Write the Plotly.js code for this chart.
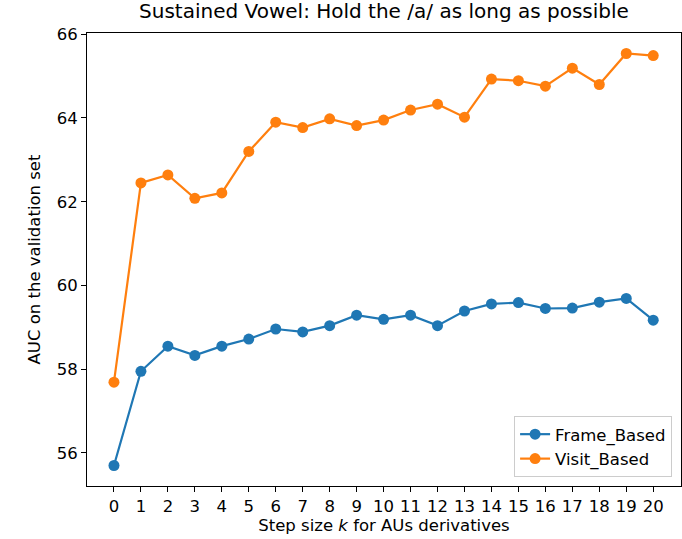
<!DOCTYPE html>
<html>
<head>
<meta charset="utf-8">
<script src="https://cdn.plot.ly/plotly-3.0.1.min.js"></script>
<style>html,body{margin:0;padding:0;background:#fff;}#chart{width:682px;height:539px;}</style>
</head>
<body>
<div id="chart"></div>
<script>
const stepSizes = [0,1,2,3,4,5,6,7,8,9,10,11,12,13,14,15,16,17,18,19,20];
const frameBased = [55.70,57.95,58.55,58.33,58.55,58.72,58.96,58.89,59.04,59.29,59.19,59.29,59.04,59.39,59.56,59.59,59.45,59.46,59.60,59.69,59.17];
const visitBased = [57.69,62.45,62.64,62.08,62.21,63.20,63.90,63.77,63.98,63.82,63.95,64.19,64.33,64.02,64.93,64.89,64.76,65.19,64.80,65.54,65.49];
const yTicks = [56,58,60,62,64,66];

const font = {family: 'DejaVu Sans, sans-serif', color: '#000'};
const fs = 16.5;
const traces = [
  {x: stepSizes, y: frameBased, name: 'Frame_Based', mode: 'lines+markers',
   line: {color: '#1f77b4', width: 2.2}, marker: {color: '#1f77b4', size: 11}},
  {x: stepSizes, y: visitBased, name: 'Visit_Based', mode: 'lines+markers',
   line: {color: '#ff7f0e', width: 2.2}, marker: {color: '#ff7f0e', size: 11}}
];
const layout = {
  width: 682, height: 539,
  margin: {l: 87, r: 1, t: 33, b: 53},
  paper_bgcolor: '#fff', plot_bgcolor: '#fff',
  font: Object.assign({size: fs}, font),
  title: {text: 'Sustained Vowel: Hold the /a/ as long as possible', font: Object.assign({size: 20}, font), x: 0.563, xanchor: 'center', y: 0.992, yanchor: 'top'},
  xaxis: {
    range: [-1, 21.03], tickmode: 'array', tickvals: stepSizes, ticktext: stepSizes.map(String),
    showgrid: false, zeroline: false, showline: true, mirror: true, linecolor: '#000', linewidth: 1,
    ticks: 'outside', ticklen: 5, tickcolor: '#000', tickfont: Object.assign({size: fs}, font),
    title: {text: 'Step size <i>k</i> for AUs derivatives', font: Object.assign({size: fs}, font), standoff: 4}
  },
  yaxis: {
    range: [55.21, 66.03], tickmode: 'array', tickvals: yTicks, ticktext: yTicks.map(String),
    showgrid: false, zeroline: false, showline: true, mirror: true, linecolor: '#000', linewidth: 1,
    ticks: 'outside', ticklen: 5, tickcolor: '#000', tickfont: Object.assign({size: fs}, font),
    title: {text: 'AUC on the validation set', font: Object.assign({size: fs}, font), standoff: 11}
  },
  legend: {x: 0.985, y: 0.02, xanchor: 'right', yanchor: 'bottom', bgcolor: 'rgba(255,255,255,0.8)',
    bordercolor: '#ccc', borderwidth: 1, font: Object.assign({size: fs}, font), tracegroupgap: 0},
  showlegend: true
};
Plotly.newPlot('chart', traces, layout, {displayModeBar: false, staticPlot: true});
</script>
</body>
</html>
